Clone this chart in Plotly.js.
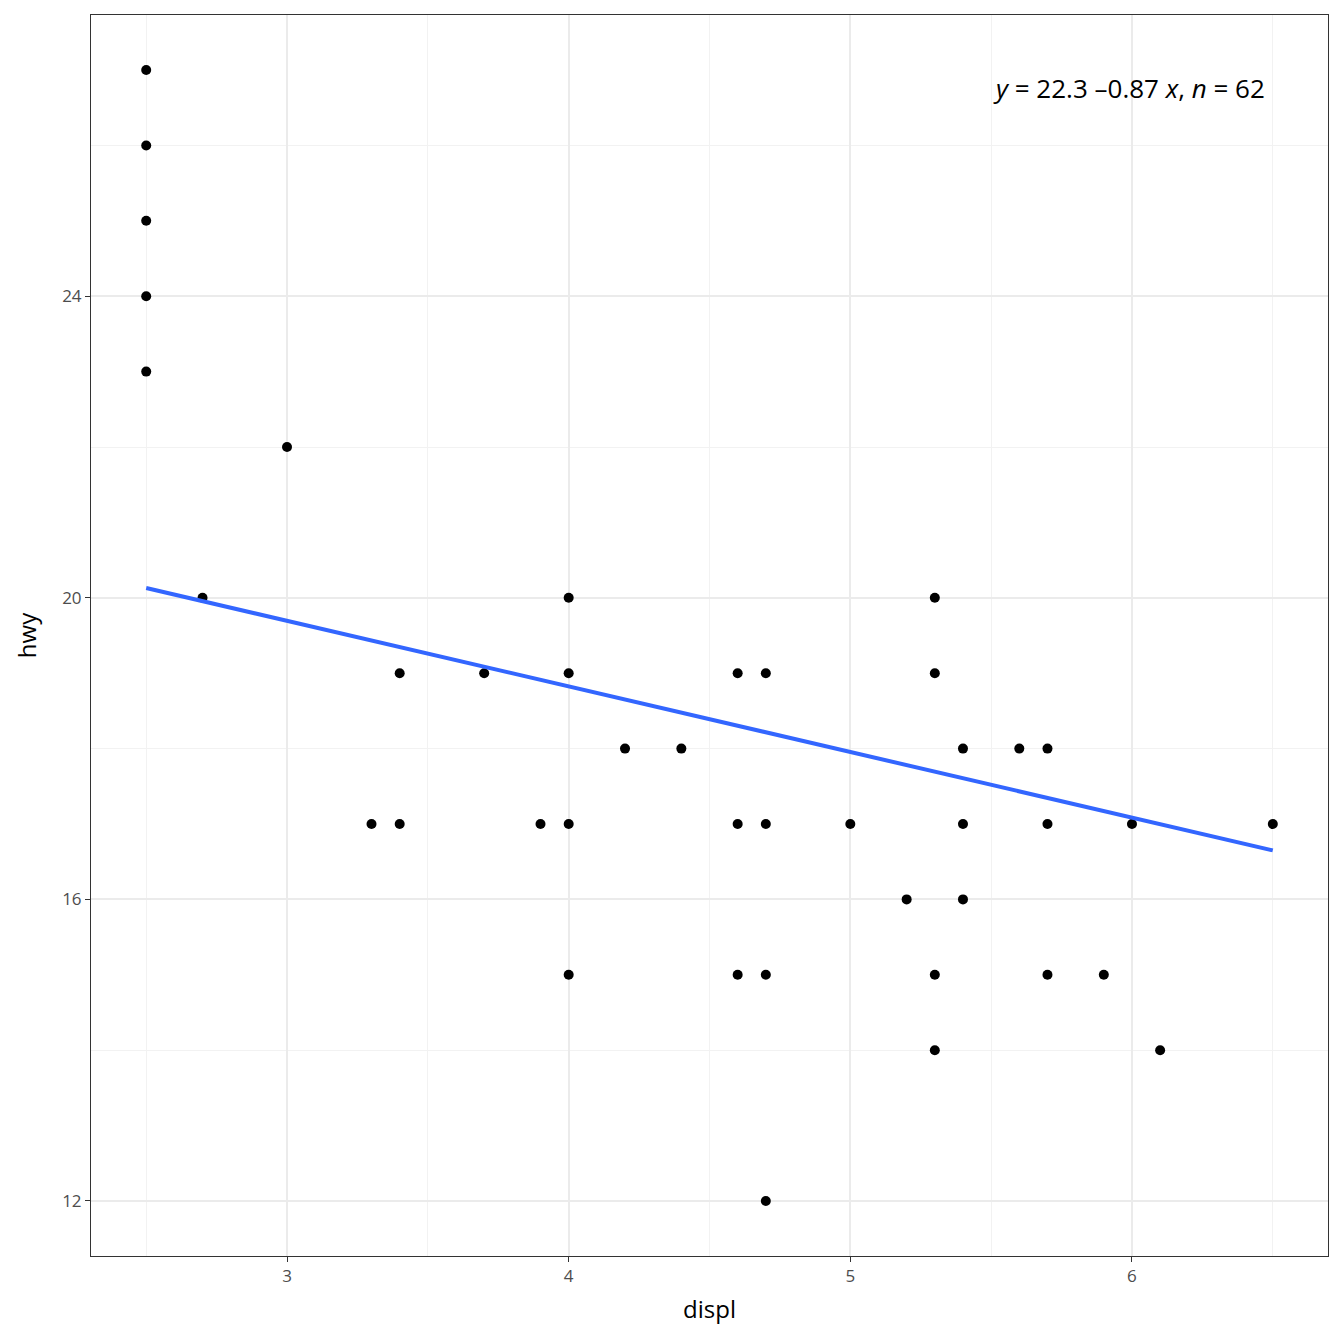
<!DOCTYPE html>
<html>
<head>
<meta charset="utf-8">
<script src="https://cdn.plot.ly/plotly-3.0.1.min.js"></script>
<style>body{margin:0;background:#fff}#plot{width:1344px;height:1344px}</style>
</head>
<body>
<div id="plot"></div>
<script>
// points
const displ = [2.5, 2.5, 2.5, 2.5, 2.5, 3.0, 2.7, 3.4, 3.7, 4.0, 4.0, 3.3, 3.4, 3.9, 4.0, 4.0,
    4.2, 4.4, 4.6, 4.7, 4.6, 4.7, 4.6, 4.7, 4.7, 5.0, 5.2, 5.3, 5.3, 5.3, 5.3, 5.4, 5.4, 5.4,
    5.6, 5.7, 5.7, 5.7, 5.9, 6.0, 6.1, 6.5];
const hwy = [27, 26, 25, 24, 23, 22, 20, 19, 19, 20, 19, 17, 17, 17, 17, 15,
    18, 18, 19, 19, 17, 17, 15, 15, 12, 17, 16, 20, 19, 15, 14, 18, 17, 16,
    18, 18, 17, 15, 15, 17, 14, 17];

// fitted line ends
const fitX = [2.5, 6.5];
const fitY = [20.13, 16.65];

const points = {
    x: displ, y: hwy, mode: 'markers', type: 'scatter',
    marker: { color: 'black', size: 10 }, hoverinfo: 'skip'
};
const fit = {
    x: fitX, y: fitY, mode: 'lines', type: 'scatter',
    line: { color: '#3366FF', width: 4 }, hoverinfo: 'skip'
};

const axisStyle = {
    showline: true, mirror: true, linecolor: '#333333', linewidth: 1,
    ticks: 'outside', ticklen: 5, tickcolor: '#333333',
    tickfont: { family: 'Open Sans', size: 17, color: '#4d4d4d' },
    gridcolor: '#ebebeb', gridwidth: 2, zeroline: false
};

const layout = {
    margin: { l: 91, r: 16, t: 15, b: 88 },
    showlegend: false,
    plot_bgcolor: 'white',
    paper_bgcolor: 'white',
    xaxis: Object.assign({}, axisStyle, {
        range: [2.304, 6.696], tickvals: [3, 4, 5, 6],
        minor: { tickvals: [2.5, 3.5, 4.5, 5.5, 6.5], showgrid: true, gridcolor: '#f2f2f2', gridwidth: 1, ticks: '' },
        title: { text: 'displ', font: { family: 'Open Sans', size: 24, color: 'black' }, standoff: 14 }
    }),
    yaxis: Object.assign({}, axisStyle, {
        range: [11.27, 27.73], tickvals: [12, 16, 20, 24],
        minor: { tickvals: [14, 18, 22, 26], showgrid: true, gridcolor: '#f2f2f2', gridwidth: 1, ticks: '' },
        title: { text: 'hwy', font: { family: 'Open Sans', size: 24, color: 'black' }, standoff: 18 }
    }),
    annotations: [{
        xref: 'x', yref: 'y', x: 6.48, y: 26.76, xanchor: 'right', yanchor: 'middle',
        showarrow: false,
        text: '<i>y</i> = 22.3 \u20130.87 <i>x</i>, <i>n</i> = 62',
        font: { family: 'Open Sans', size: 26, color: 'black' }
    }]
};

Plotly.newPlot('plot', [points, fit], layout, { displayModeBar: false });
</script>
</body>
</html>
